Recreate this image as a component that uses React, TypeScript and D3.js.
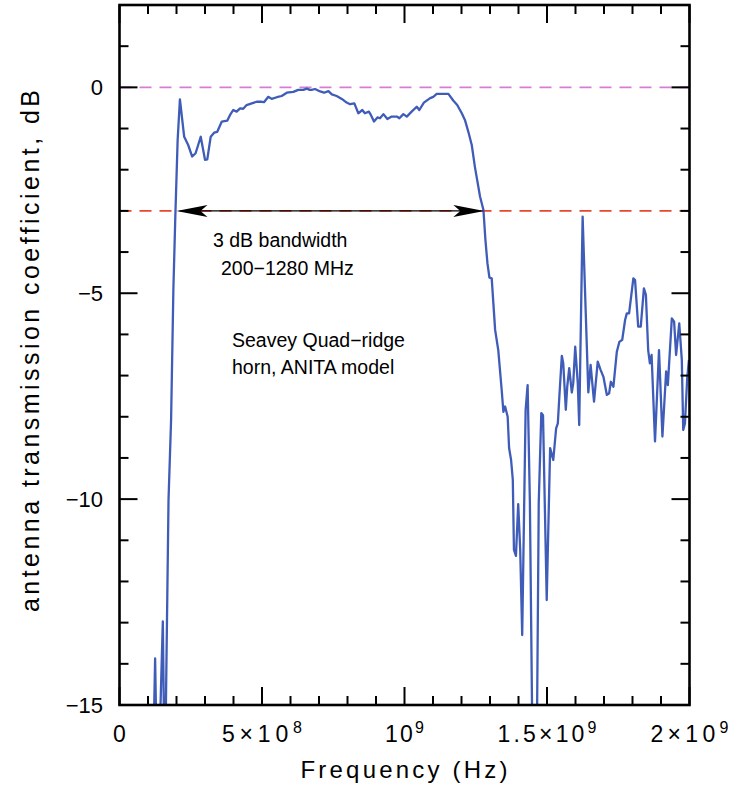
import React from "react";
import * as d3 from "d3";

// Frequency in MHz (axis is labelled in Hz)
const freqMHz = [
  100, 119, 125, 130, 140, 152, 157, 161, 172, 181,
  189, 196, 204, 212, 227, 241, 255, 267, 285, 300,
  308, 320, 332, 343, 359, 378, 388, 399, 411, 423,
  434, 446, 464, 481, 499, 507, 522, 534, 552, 569,
  587, 610, 627, 645, 657, 668, 674, 686, 704, 718,
  733, 745, 762, 780, 797, 809, 824, 838, 852, 861,
  875, 882, 893, 905, 914, 926, 940, 955, 973, 982,
  996, 1008, 1025, 1043, 1052, 1068, 1090, 1101, 1113, 1131,
  1154, 1171, 1185, 1201, 1212, 1224, 1236, 1247, 1265, 1277,
  1284, 1291, 1298, 1306, 1318, 1329, 1341, 1347, 1353, 1362,
  1367, 1374, 1380, 1384, 1391, 1399, 1406, 1413, 1425, 1432,
  1440, 1452, 1462, 1471, 1480, 1486, 1499, 1511, 1522, 1532,
  1538, 1543, 1552, 1557, 1566, 1571, 1578, 1587, 1592, 1599,
  1608, 1613, 1625, 1645, 1653, 1665, 1678, 1688, 1698, 1710,
  1718, 1724, 1733, 1745, 1754, 1764, 1774, 1780, 1788, 1803,
  1809, 1820, 1829, 1840, 1847, 1855, 1861, 1867, 1879, 1893,
  1905, 1918, 1924, 1938, 1946, 1953, 1964, 1973, 1978, 1984,
  1992, 1998,
];

const transmissionDB = [
  -17, -16, -13.87, -16, -16, -12.97, -16, -16, -10.02, -8.08,
  -4.92, -3.1, -1.28, -0.29, -1.2, -1.4, -1.68, -1.6, -1.2, -1.76,
  -1.75, -1.2, -1.1, -1.08, -0.83, -0.81, -0.67, -0.55, -0.59, -0.51,
  -0.52, -0.43, -0.39, -0.35, -0.35, -0.36, -0.23, -0.28, -0.24, -0.21,
  -0.13, -0.11, -0.06, -0.06, -0.03, -0.06, -0.06, -0.04, -0.1, -0.13,
  -0.09, -0.17, -0.21, -0.28, -0.37, -0.41, -0.39, -0.63, -0.55, -0.63,
  -0.59, -0.67, -0.83, -0.73, -0.75, -0.65, -0.77, -0.71, -0.71, -0.75,
  -0.65, -0.71, -0.59, -0.47, -0.55, -0.37, -0.26, -0.23, -0.16, -0.16,
  -0.16, -0.32, -0.43, -0.63, -0.79, -1.08, -1.4, -1.93, -2.65, -2.98,
  -3.71, -4.27, -4.62, -4.64, -5.89, -6.38, -7.35, -7.88, -7.75, -8.0,
  -8.76, -9.05, -9.53, -11.23, -11.38, -10.12, -11.23, -13.3, -7.83, -7.23,
  -10.1, -18, -18, -10.1, -7.91, -7.96, -12.45, -8.76, -9.05, -8.28,
  -8.16, -7.55, -6.52, -6.7, -7.83, -7.27, -6.82, -7.41, -7.19, -6.3,
  -7.19, -8.2, -3.14, -7.41, -6.74, -7.63, -6.66, -6.86, -7.03, -7.47,
  -7.43, -7.15, -7.27, -6.42, -6.18, -6.13, -5.65, -5.49, -5.49, -4.64,
  -4.68, -5.81, -5.81, -4.88, -5.04, -6.38, -6.7, -6.5, -8.6, -6.38,
  -8.48, -6.9, -7.23, -5.61, -5.69, -6.5, -5.73, -6.62, -8.32, -8.16,
  -7.06, -6.62,
];

const xTickValues = [0, 500, 1000, 1500, 2000];
const xTickBase = ["0", "5×10", "10", "1.5×10", "2×10"];
const xTickExp = ["", "8", "9", "9", "9"];
const yTickValues = [0, -5, -10, -15];
const yTickLabels = ["0", "−5", "−10", "−15"];
const refLevels = [0, -3];
const refColors = ["#d67fd2", "#e8472e"];
const bandEdgesMHz = [200, 1280];
const bandText = ["3 dB bandwidth", "200−1280 MHz"];
const hornText = ["Seavey Quad−ridge", "horn, ANITA model"];
const xTitle = "Frequency (Hz)";
const yTitle = "antenna transmission coefficient, dB";

const W = 731;
const H = 789;
const L = 119.5;
const R = 689.5;
const T = 5;
const B = 705;
const FONT = "'Liberation Sans', Arial, Helvetica, sans-serif";
const xLabelWidths = [0, 80, 39, 99, 78];

export default function App() {
  const x = d3.scaleLinear().domain([0, 2000]).range([L, R]);
  const y = d3.scaleLinear().domain([-15, 2]).range([B, T]);

  const data = freqMHz.map((f, i) => [f, transmissionDB[i]] as [number, number]);
  const line = d3
    .line<[number, number]>()
    .x((d) => x(d[0]))
    .y((d) => y(d[1]));

  const xMinor = d3.range(0, 2001, 100);
  const yMinor = d3.range(-15, 3, 1);
  const major = 18;
  const minor = 9;

  const ay = y(-3);
  const ax0 = x(bandEdgesMHz[0]);
  const ax1 = x(bandEdgesMHz[1]);
  const headL = `M${ax0},${ay} L${ax0 + 31},${ay - 6} L${ax0 + 24},${ay} L${ax0 + 31},${ay + 6} Z`;
  const headR = `M${ax1},${ay} L${ax1 - 31},${ay - 6} L${ax1 - 24},${ay} L${ax1 - 31},${ay + 6} Z`;

  return (
    <svg
      width={W}
      height={H}
      viewBox={`0 0 ${W} ${H}`}
      style={{ position: "absolute", left: 0, top: 0, background: "#fff" }}
    >
      <defs>
        <clipPath id="plotClip">
          <rect x={L} y={T} width={R - L} height={B - T} />
        </clipPath>
      </defs>
      <rect x={0} y={0} width={W} height={H} fill="#fff" />

      {refLevels.map((lv, i) => (
        <line
          key={"ref" + i}
          x1={L}
          x2={R}
          y1={y(lv)}
          y2={y(lv)}
          stroke={refColors[i]}
          strokeWidth={1.8}
          strokeDasharray="12 8"
        />
      ))}

      <g clipPath="url(#plotClip)">
        <path
          d={line(data) || ""}
          fill="none"
          stroke="#3f5cb8"
          strokeWidth={2.3}
          strokeLinejoin="round"
        />
      </g>

      {/* 3 dB bandwidth arrow */}
      <line x1={ax0 + 20} x2={ax1 - 20} y1={ay} y2={ay} stroke="#000" strokeWidth={1.4} />
      <path d={headL} fill="#000" />
      <path d={headR} fill="#000" />

      <g fontFamily={FONT} fontSize={19.5} fill="#000">
        <text x={213} y={247}>{bandText[0]}</text>
        <text x={221} y={275}>{bandText[1]}</text>
        <text x={232} y={347}>{hornText[0]}</text>
        <text x={232} y={374}>{hornText[1]}</text>
      </g>

      {/* ticks */}
      <g stroke="#000" strokeWidth={2}>
        {xMinor.map((v) => {
          const len = v % 500 === 0 ? major : minor;
          return (
            <g key={"xt" + v}>
              <line x1={x(v)} x2={x(v)} y1={B} y2={B - len} />
              <line x1={x(v)} x2={x(v)} y1={T} y2={T + len} />
            </g>
          );
        })}
        {yMinor.map((v) => {
          const len = v % 5 === 0 ? major : minor;
          return (
            <g key={"yt" + v}>
              <line x1={L} x2={L + len} y1={y(v)} y2={y(v)} />
              <line x1={R} x2={R - len} y1={y(v)} y2={y(v)} />
            </g>
          );
        })}
      </g>
      <rect x={L} y={T} width={R - L} height={B - T} fill="none" stroke="#000" strokeWidth={2.6} />

      {/* tick labels */}
      <g fontFamily={FONT} fill="#000">
        {xTickValues.map((v, i) => (
          <text
            key={"xl" + v}
            x={x(v)}
            y={742}
            fontSize={23}
            textAnchor="middle"
            textLength={xLabelWidths[i] || undefined}
            lengthAdjust={xLabelWidths[i] ? "spacing" : undefined}
          >
            {xTickBase[i]}
            {xTickExp[i] && (
              <tspan fontSize={16} dy={-9}>
                {xTickExp[i]}
              </tspan>
            )}
          </text>
        ))}
        {yTickValues.map((v, i) => (
          <text
            key={"yl" + v}
            x={103}
            y={y(v) + 8}
            fontSize={22}
            textAnchor="end"
          >
            {yTickLabels[i]}
          </text>
        ))}
      </g>

      <text
        x={404}
        y={778}
        textAnchor="middle"
        fontFamily={FONT}
        fontSize={24}
        textLength={207}
        lengthAdjust="spacing"
      >
        {xTitle}
      </text>
      <text
        transform={`translate(39, 351) rotate(-90)`}
        textAnchor="middle"
        fontFamily={FONT}
        fontSize={25}
        textLength={522}
        lengthAdjust="spacing"
      >
        {yTitle}
      </text>
    </svg>
  );
}
